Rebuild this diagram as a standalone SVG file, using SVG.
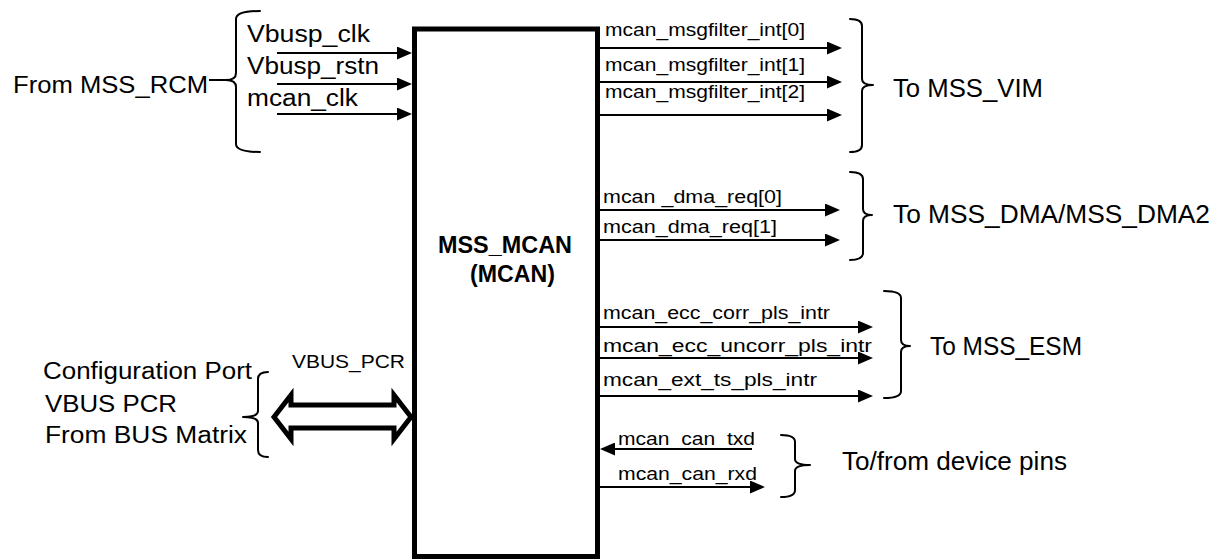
<svg xmlns="http://www.w3.org/2000/svg" width="1216" height="559" viewBox="0 0 1216 559">
<style>
  text { font-family: "Liberation Sans", Arial, sans-serif; fill: #000; }
  .big { font-size: 26px; }
  .mid { font-size: 23px; }
  .sm { font-size: 17.5px; }
  .bold { font-weight: bold; }
  .wire { stroke: #000; stroke-width: 2; fill: none; marker-end: url(#ah); }
  .brace { stroke: #000; stroke-width: 2; fill: none; stroke-linecap: round; stroke-linejoin: round; }
</style>
<defs>
  <marker id="ah" viewBox="0 0 15 13" markerWidth="15" markerHeight="13" markerUnits="userSpaceOnUse" refX="10" refY="6.5" orient="auto">
    <path d="M0,0 L15,6.5 L0,13 z" fill="#000"/>
  </marker>
</defs>
<rect width="1216" height="559" fill="#fff"/>

<g id="mcan">
  <rect x="414.5" y="29" width="183" height="527.5" fill="#fff" stroke="#000" stroke-width="5"/>
  <text class="mid bold" x="438" y="253" textLength="134" lengthAdjust="spacingAndGlyphs">MSS_MCAN</text>
  <text class="mid bold" x="470" y="282" textLength="85" lengthAdjust="spacingAndGlyphs">(MCAN)</text>
</g>

<g id="from-rcm">
  <text class="mid" x="13" y="93" textLength="195" lengthAdjust="spacingAndGlyphs">From MSS_RCM</text>
  <path class="brace" d="M260,11 Q236,11 236,19 L236,73 Q236,80 226,80 Q236,80 236,87 L236,144 Q236,152 260,152"/>
  <line x1="209" y1="80" x2="227" y2="80" stroke="#000" stroke-width="2"/>
  <text class="mid" x="247" y="42" textLength="123" lengthAdjust="spacingAndGlyphs">Vbusp_clk</text>
  <text class="mid" x="247" y="74" textLength="132" lengthAdjust="spacingAndGlyphs">Vbusp_rstn</text>
  <text class="mid" x="247" y="106" textLength="111" lengthAdjust="spacingAndGlyphs">mcan_clk</text>
</g>

<g id="to-vim">
  <path class="brace" d="M850,19 Q862,19 862,26 L862,79 Q862,85 873,85 Q862,85 862,91 L862,145 Q862,152 850,152"/>
  <text class="big" x="893" y="97" textLength="150" lengthAdjust="spacingAndGlyphs">To MSS_VIM</text>
  <text class="sm" x="605" y="36" textLength="200" lengthAdjust="spacingAndGlyphs">mcan_msgfilter_int[0]</text>
  <text class="sm" x="605" y="71" textLength="200" lengthAdjust="spacingAndGlyphs">mcan_msgfilter_int[1]</text>
  <text class="sm" x="605" y="98" textLength="200" lengthAdjust="spacingAndGlyphs">mcan_msgfilter_int[2]</text>
</g>

<g id="to-dma">
  <path class="brace" d="M850,172 Q863,172 863,179 L863,209 Q863,215 872,215 Q863,215 863,221 L863,253 Q863,260 850,260"/>
  <text class="big" x="893" y="223" textLength="317" lengthAdjust="spacingAndGlyphs">To MSS_DMA/MSS_DMA2</text>
  <text class="sm" x="603" y="203" textLength="179" lengthAdjust="spacingAndGlyphs">mcan _dma_req[0]</text>
  <text class="sm" x="603" y="233" textLength="174" lengthAdjust="spacingAndGlyphs">mcan_dma_req[1]</text>
</g>

<g id="to-esm">
  <path class="brace" d="M884,291 Q901,291 901,298 L901,340 Q901,346 910,346 Q901,346 901,352 L901,391 Q901,398 884,398"/>
  <text class="big" x="930" y="355" textLength="152" lengthAdjust="spacingAndGlyphs">To MSS_ESM</text>
  <text class="sm" x="603" y="319" textLength="227" lengthAdjust="spacingAndGlyphs">mcan_ecc_corr_pls_intr</text>
  <text class="sm" x="603" y="352" textLength="269" lengthAdjust="spacingAndGlyphs">mcan_ecc_uncorr_pls_intr</text>
  <text class="sm" x="603" y="386" textLength="214" lengthAdjust="spacingAndGlyphs">mcan_ext_ts_pls_intr</text>
</g>

<g id="to-pins">
  <path class="brace" d="M781,435 Q795,435 795,442 L795,459 Q795,465 810,465 Q795,465 795,471 L795,490 Q795,497 781,497"/>
  <text class="big" x="842" y="470" textLength="225" lengthAdjust="spacingAndGlyphs">To/from device pins</text>
  <text class="sm" x="618" y="445" textLength="137" lengthAdjust="spacingAndGlyphs">mcan_can_txd</text>
  <text class="sm" x="618" y="480" textLength="139" lengthAdjust="spacingAndGlyphs">mcan_can_rxd</text>
</g>

<g id="config-port">
  <text class="mid" x="43" y="379" textLength="209" lengthAdjust="spacingAndGlyphs">Configuration Port</text>
  <text class="mid" x="45" y="412" textLength="132" lengthAdjust="spacingAndGlyphs">VBUS PCR</text>
  <text class="mid" x="45" y="443" textLength="202" lengthAdjust="spacingAndGlyphs">From BUS Matrix</text>
  <path class="brace" d="M268,372 Q258,372 258,379 L258,411 Q258,417 243,417 Q258,417 258,423 L258,450 Q258,457 268,457"/>
  <text class="sm" x="292" y="368" textLength="113" lengthAdjust="spacingAndGlyphs">VBUS_PCR</text>
</g>

<g id="connectors">
  <line class="wire" x1="277" y1="53" x2="407" y2="53"/>
  <line class="wire" x1="277" y1="84" x2="407" y2="84"/>
  <line class="wire" x1="277" y1="114" x2="407" y2="114"/>
  <line class="wire" x1="600" y1="48" x2="837" y2="48"/>
  <line class="wire" x1="600" y1="82" x2="837" y2="82"/>
  <line class="wire" x1="600" y1="115" x2="837" y2="115"/>
  <line class="wire" x1="600" y1="210" x2="835" y2="210"/>
  <line class="wire" x1="600" y1="240" x2="835" y2="240"/>
  <line class="wire" x1="600" y1="327" x2="868" y2="327"/>
  <line class="wire" x1="600" y1="358" x2="868" y2="358"/>
  <line class="wire" x1="600" y1="396" x2="868" y2="396"/>
  <line class="wire" x1="752" y1="449" x2="605" y2="449"/>
  <line class="wire" x1="600" y1="487" x2="760" y2="487"/>
  <polygon points="274,417 291,395 291,405 394,405 394,395 411,417 394,439 394,428 291,428 291,439" fill="#fff" stroke="#000" stroke-width="5" stroke-linejoin="miter"/>
</g>
</svg>
